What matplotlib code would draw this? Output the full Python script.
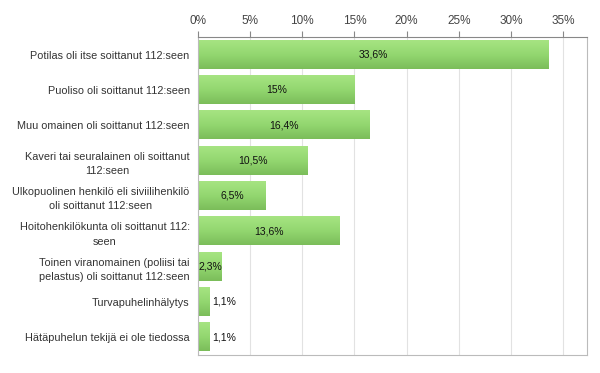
import matplotlib
matplotlib.use('Agg')
import numpy as np
import matplotlib.pyplot as plt
from matplotlib.colors import LinearSegmentedColormap

# --- Data ---
categories = [
    "Potilas oli itse soittanut 112:seen",
    "Puoliso oli soittanut 112:seen",
    "Muu omainen oli soittanut 112:seen",
    "Kaveri tai seuralainen oli soittanut\n112:seen",
    "Ulkopuolinen henkilö eli siviilihenkilö\noli soittanut 112:seen",
    "Hoitohenkilökunta oli soittanut 112:\nseen",
    "Toinen viranomainen (poliisi tai\npelastus) oli soittanut 112:seen",
    "Turvapuhelinhälytys",
    "Hätäpuhelun tekijä ei ole tiedossa",
]
values = [33.6, 15, 16.4, 10.5, 6.5, 13.6, 2.3, 1.1, 1.1]
value_labels = ["33,6%", "15%", "16,4%", "10,5%", "6,5%", "13,6%", "2,3%", "1,1%", "1,1%"]
ticks = [0, 5, 10, 15, 20, 25, 30, 35]
tick_labels = ["0%", "5%", "10%", "15%", "20%", "25%", "30%", "35%"]

plt.rcParams['font.family'] = ['Liberation Sans', 'DejaVu Sans']

fig = plt.figure(figsize=(6, 3.73), dpi=100)
ax = fig.add_axes([198 / 600, 1 - 355 / 373, (587 - 198) / 600, (355 - 37) / 373])

y = np.arange(len(categories))
bars = ax.barh(y, values, height=0.8, color='none', edgecolor='none', zorder=2)

# gradient fill for each bar
cmap = LinearSegmentedColormap.from_list('g', ['#a6e482', '#93d770', '#7bbd5a'])
grad = np.linspace(0, 1, 64).reshape(-1, 1)
for b in bars:
    x0, yb = b.get_x(), b.get_y()
    w, h = b.get_width(), b.get_height()
    ax.imshow(grad, cmap=cmap, aspect='auto', extent=(x0, x0 + w, yb + h, yb),
              zorder=2, interpolation='bilinear')
ax.set_xlim(0, 37.3)
ax.set_ylim(len(categories) - 0.5, -0.5)

# value labels
for i, (v, lab) in enumerate(zip(values, value_labels)):
    if v >= 2:
        ax.text(v / 2, i, lab, ha='center', va='center', fontsize=7.5, color='#111111', zorder=3)
    else:
        ax.text(v + 0.3, i, lab, ha='left', va='center', fontsize=7.5, color='#111111', zorder=3)

ax.set_yticks(y)
ax.set_yticklabels(categories, fontsize=7.8, color='#333333', multialignment='center',
                   linespacing=1.55)
ax.xaxis.tick_top()
ax.set_xticks(ticks)
ax.set_xticklabels(tick_labels, fontsize=8.5, color='#444444')
ax.tick_params(axis='y', length=0, pad=6)
ax.tick_params(axis='x', length=4, color='#888888', pad=3)

ax.grid(axis='x', color='#e2e2e2', linewidth=0.8, zorder=0)
ax.set_axisbelow(True)
for s in ['left', 'right', 'bottom']:
    ax.spines[s].set_color('#bbbbbb')
ax.spines['top'].set_color('#888888')

plt.savefig('out.png', dpi=100)
plt.close()
